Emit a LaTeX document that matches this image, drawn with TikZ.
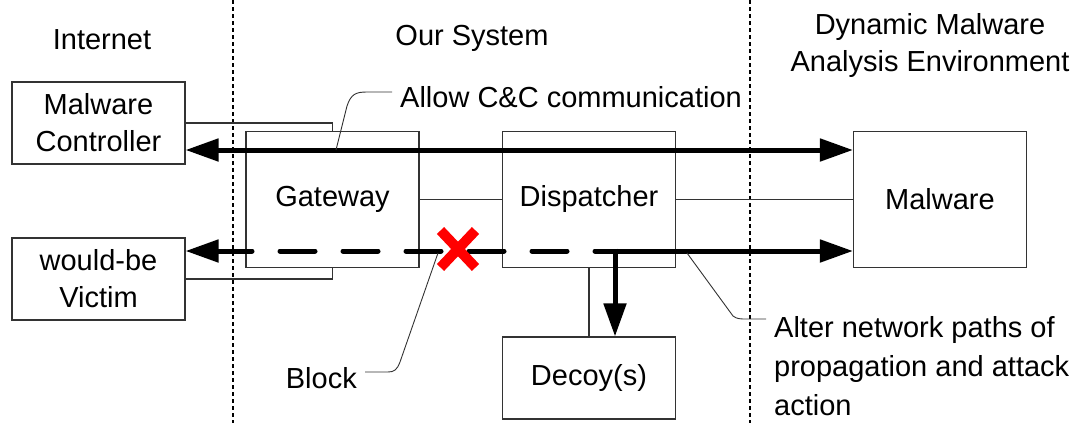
\documentclass[tikz,border=0pt]{standalone}
\usepackage{fontspec}
\setmainfont{Liberation Sans}
\usetikzlibrary{arrows.meta,shapes.misc}

\tikzset{
  box/.style={draw=black!80, line width=1.1pt, minimum width=173pt, minimum height=136pt, align=center},
  smallbox/.style={box, minimum height=82pt},
  link/.style={draw=black!80, line width=1.1pt},
  flow/.style={line width=5pt, >={Triangle[length=33pt,width=22pt]}},
  leader/.style={line width=0.9pt, black!80},
  zone/.style={line width=2.5pt, dash pattern=on 4pt off 3pt},
  note/.style={inner sep=8pt, align=left},
}

\begin{document}
\begin{tikzpicture}[x=1pt, y=-1pt, font=\fontsize{29}{37}\selectfont]
    \useasboundingbox (0,0) rectangle (1080,423);

    % Zone headings
    \node (internet) at (102,40) {Internet};
    \node (oursys) at (472,38) {Our System};
    \node[align=center] (dmae) at (930,45.5) {Dynamic Malware\\Analysis Environment};

    % Zone borders
    \draw[zone] (233,0) -- (233,423);
    \draw[zone] (750,0) -- (750,423);

    % Hosts
    \node[smallbox] (ctrl) at (98.5,123) {Malware\\Controller};
    \node[smallbox] (victim) at (98.5,279) {would-be\\Victim};
    \node[box] (gateway) at (332.5,199.5) {Gateway};
    \node[box] (dispatcher) at (589,199.5) {Dispatcher};
    \node[box] (malware) at (940,199.5) {Malware};
    \node[smallbox] (decoy) at (589,378) {Decoy(s)};

    % Wiring
    \draw[link] (ctrl.east) -| (gateway.north);
    \draw[link] (victim.east) -| (gateway.south);
    \draw[link] (gateway.east) -- (dispatcher.west);
    \draw[link] (dispatcher.east) -- (malware.west);
    \draw[link] (dispatcher.south) -- (decoy.north);

    % Traffic
    \coordinate (cc) at (0,150);
    \coordinate (atk) at (0,251);
    \coordinate (split) at (615,248.5);
    \draw[flow, <->] (ctrl.east |- cc) -- (malware.west |- cc);
    \draw[flow, ->, dash pattern=on 35pt off 28pt, line cap=round] (630,251) -- (victim.east |- atk);
    \draw[flow, ->] (613,251) -- (malware.west |- atk);
    \draw[flow, ->] (split) -- (split |- decoy.north);

    % Blocked path
    \node[cross out, draw=red, line width=10pt, minimum width=25pt, minimum height=27pt, inner sep=0pt] (block) at (458,249) {};

    % Callouts
    \node[note, anchor=west] (allow) at (392,97) {Allow C\&C communication};
    \node[note, anchor=east] (blocktxt) at (365,378) {Block};
    \node[note, anchor=west, font=\fontsize{29}{39}\selectfont] (alter) at (766,366) {Alter network paths of\\propagation and attack\\action};
    \coordinate (ccpick) at (336,150);
    \coordinate (blockpick) at (438,253);
    \coordinate (alterpick) at (687,253);
    \draw[leader] (ccpick) -- (347,106) .. controls (351,94) and (356,92) .. (367,92) -- ([yshift=5pt]allow.west);
    \draw[leader] (blockpick) -- (400,362) .. controls (397,370) and (394,372) .. (388,372) -- ([yshift=6pt]blocktxt.east);
    \draw[leader] (alterpick) -- (733,316) .. controls (737,319) and (740,319) .. (747,319) -- ([yshift=47pt]alter.west);
\end{tikzpicture}
\end{document}
